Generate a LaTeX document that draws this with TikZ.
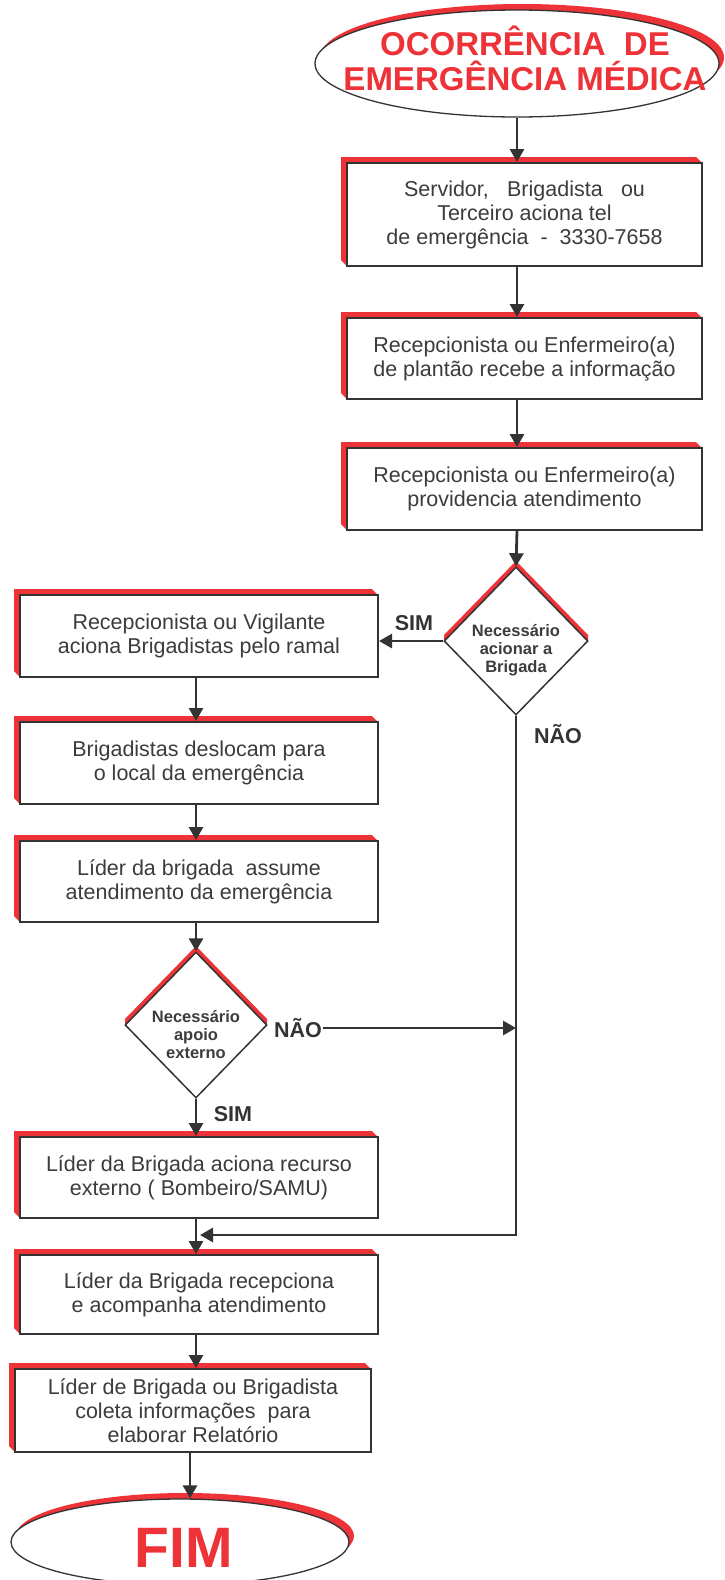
\documentclass[tikz,border=0pt]{standalone}
\usepackage{fontspec}
\setmainfont{Liberation Sans}
\usetikzlibrary{shapes.geometric,arrows.meta,calc}
\definecolor{shred}{RGB}{237,50,56}
\definecolor{ink}{RGB}{51,51,51}
\definecolor{txt}{RGB}{60,60,60}
\newcommand\mkbox[6]{%
  \fill[shred] (#2,#5) -- (#2-6,#5-6) -- (#2-6,#3-6) -- (#4-6,#3-6) -- (#4,#3) -- cycle;
  \node[stepbox,minimum width={#4-#2},minimum height={#5-#3}] (#1) at ({(#2+#4)/2},{(#3+#5)/2}) {#6};
}
\begin{document}
\begin{tikzpicture}[x=1pt,y=-1pt,
  stepbox/.style={draw=ink,line width=2pt,fill=white,rectangle,inner sep=0pt,text=txt,align=center,font=\fontsize{21.5}{24}\selectfont},
  dshape/.style={draw=ink,line width=1.5pt,fill=white,diamond,inner sep=0pt},
  dtext/.style={text=txt,align=center,font=\bfseries\fontsize{16.5}{18}\selectfont,inner sep=0pt},
  lbl/.style={text=ink,font=\bfseries\fontsize{21.5}{22}\selectfont,inner sep=1pt},
  arr/.style={draw=ink,line width=2.8pt,line join=miter,-{Triangle[length=13pt,width=14pt]}},
  term/.style={ellipse,draw=ink,line width=1.3pt,fill=white,inner sep=0pt},
  termtext/.style={text=shred,align=center,inner sep=0pt},
]
\useasboundingbox (0,0) rectangle (725,1580);

% start terminal
\fill[shred] (522,57.5) ellipse [x radius=202pt, y radius=53.5pt];
\node[term,minimum width=404pt,minimum height=107pt] (e1) at (517,63.5) {};
\node[termtext,font=\bfseries\fontsize{33}{35}\selectfont] (t1) at (525,58) {OCORRÊNCIA\ \ DE\\EMERGÊNCIA MÉDICA};

% right column
\mkbox{b1}{347}{163}{702}{266}{Servidor,\hspace{0.85em}Brigadista\hspace{0.85em}ou\\Terceiro aciona tel\\de emergência\ \ -\ \ 3330-7658}
\mkbox{b2}{347}{318}{702}{399}{Recepcionista ou Enfermeiro(a)\\de plantão recebe a informação}
\mkbox{b3}{347}{448}{702}{530}{Recepcionista ou Enfermeiro(a)\\providencia atendimento}

% decision 1
\fill[shred] (444,641) -- (516,567) -- (588,641) -- (588,635) -- (516,561) -- (444,635) -- cycle;
\node[dshape,minimum width=144pt,minimum height=148pt] (d1) at (516,641) {};
\node[dtext] (dt1) at (516,650) {Necessário\\acionar a\\Brigada};

% left column
\mkbox{l1}{20}{595}{378}{677}{Recepcionista ou Vigilante\\aciona Brigadistas pelo ramal}
\mkbox{l2}{20}{722}{378}{804}{Brigadistas deslocam para\\o local da emergência}
\mkbox{l3}{20}{841}{378}{922}{Líder da brigada\ \ assume\\atendimento da emergência}

% decision 2
\fill[shred] (125,1025) -- (196,952) -- (267,1025) -- (267,1019) -- (196,946) -- (125,1019) -- cycle;
\node[dshape,minimum width=142pt,minimum height=146pt] (d2) at (196,1025) {};
\node[dtext] (dt2) at (196,1035) {Necessário\\apoio\\externo};

\mkbox{l4}{20}{1137}{378}{1218}{Líder da Brigada aciona recurso\\externo ( Bombeiro/SAMU)}
\mkbox{l5}{20}{1255}{378}{1334}{Líder da Brigada recepciona\\e acompanha atendimento}
\mkbox{l6}{15}{1369}{371}{1452}{Líder de Brigada ou Brigadista\\coleta informações\ \ para\\elaborar Relatório}

% end terminal
\fill[shred] (185,1536) ellipse [x radius=169pt, y radius=43pt];
\node[term,minimum width=338pt,minimum height=86pt] (e2) at (180,1542) {};
\node[termtext,font=\bfseries\fontsize{57}{57}\selectfont] (t2) at (184,1548) {FIM};

% labels
\node[lbl] (s1) at (414,623) {SIM};
\node[lbl] (n1) at (558,734) {NÃO};
\node[lbl] (n2) at (298,1028) {NÃO};
\node[lbl] (s2) at (233,1114) {SIM};

% helper coordinates
\coordinate (rx) at (517,0);
\coordinate (lx) at (196,0);
\coordinate (fx) at (190,0);
\coordinate (j1) at (516,1235);
\coordinate (j2) at (200,1235);

% connectors
\draw[arr] (e1.south -| rx) -- (b1.north -| rx);
\draw[arr] (b1.south -| rx) -- (b2.north -| rx);
\draw[arr] (b2.south -| rx) -- (b3.north -| rx);
\draw[arr] (b3.south -| rx) -- (d1.north);
\draw[arr] (d1.west) -- (d1.west -| l1.east);
\draw[arr] (d1.south) -- (j1) -- (j2);
\draw[arr] (l1.south -| lx) -- (l2.north -| lx);
\draw[arr] (l2.south -| lx) -- (l3.north -| lx);
\draw[arr] (l3.south -| lx) -- (d2.north);
\draw[arr] (n2.east) -- (n2.east -| j1);
\draw[arr] (d2.south) -- (l4.north -| d2.south);
\draw[arr] (l4.south -| lx) -- (l5.north -| lx);
\draw[arr] (l5.south -| lx) -- (l6.north -| lx);
\draw[arr] (l6.south -| fx) -- (e2.north -| fx);
\end{tikzpicture}
\end{document}
